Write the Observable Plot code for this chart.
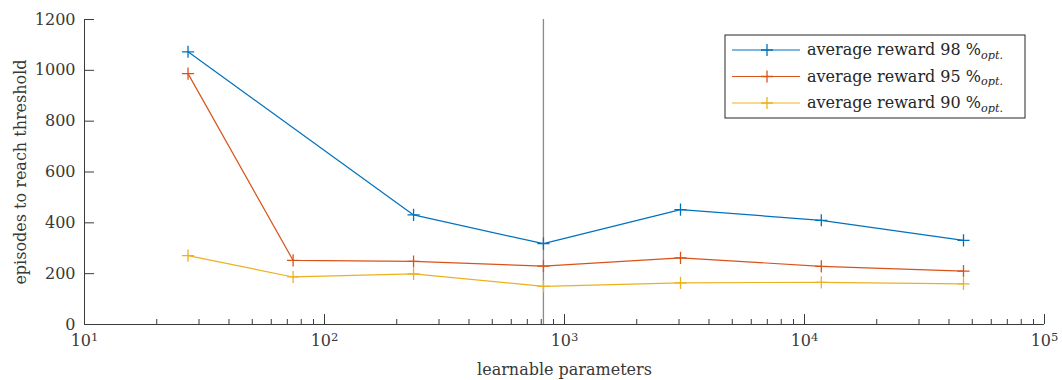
<!DOCTYPE html>
<html>
<head>
<meta charset="utf-8">
<script src="https://cdn.jsdelivr.net/npm/d3@7"></script>
<script src="https://cdn.jsdelivr.net/npm/@observablehq/plot@0.6"></script>
<style>
  body { margin: 0; background: #fff; }
  #chart { width: 1062px; height: 380px; }
</style>
</head>
<body>
<div id="chart"></div>
<script>
// Number of learnable parameters of each network size
const params = [27, 74, 235, 817, 3043, 11750, 45970];
// Episodes needed to reach each average-reward threshold (null = not measured)
const reward98 = [1073, null, 431, 318, 452, 410, 331];
const reward95 = [987, 252, 248, 230, 262, 229, 210];
const reward90 = [271, 187, 199, 150, 164, 166, 160];
const seriesLabels = ["98", "95", "90"];
const seriesColors = ["#0072BD", "#D95319", "#EDB120"];
// Network size highlighted with a vertical rule
const selectedParams = 817;
const xMajorTicks = [10, 100, 1000, 10000, 100000];
const yTicks = [0, 200, 400, 600, 800, 1000, 1200];

const rows = [];
[reward98, reward95, reward90].forEach((vals, s) => {
  params.forEach((p, i) => {
    if (vals[i] != null) rows.push({series: seriesLabels[s], params: p, episodes: vals[i]});
  });
});
const xMinorTicks = d3.range(1, 5).flatMap(e => d3.range(2, 10).map(m => m * 10 ** e));

const W = 1062, H = 380, mL = 84, mR = 18, mT = 19, mB = 56;
const frameH = H - mT - mB, frameW = W - mL - mR;
const axisColor = "#3a3a3a";
const font = "'DejaVu Serif', serif";

const plot = Plot.plot({
  width: W, height: H,
  marginLeft: mL, marginRight: mR, marginTop: mT, marginBottom: mB,
  style: {fontFamily: font, fontSize: "16px", color: "#383838", background: "white", overflow: "visible"},
  x: {type: "log", domain: [10, 1e5]},
  y: {domain: [0, 1200]},
  color: {domain: seriesLabels, range: seriesColors},
  marks: [
    Plot.ruleX([selectedParams], {stroke: "#8a8a8a", strokeWidth: 1.3}),
    // inward tick marks
    Plot.ruleX(xMinorTicks, {stroke: axisColor, insetTop: frameH - 5}),
    Plot.ruleX(xMajorTicks, {stroke: axisColor, insetTop: frameH - 10}),
    Plot.ruleY(yTicks, {stroke: axisColor, insetRight: frameW - 10}),
    Plot.ruleY([0], {stroke: axisColor}),
    Plot.ruleX([10], {stroke: axisColor}),
    Plot.line(rows, {x: "params", y: "episodes", z: "series", stroke: "series", strokeWidth: 1.2}),
    Plot.dot(rows, {x: "params", y: "episodes", stroke: "series", symbol: "plus", r: 4, strokeWidth: 1.3}),
    Plot.axisX({
      ticks: xMajorTicks, tickSize: 0, tickPadding: 10,
      tickFormat: d => `10^${Math.round(Math.log10(d))}`,
      label: "learnable parameters", labelAnchor: "center", labelArrow: "none", labelOffset: 50
    }),
    Plot.axisY({
      ticks: yTicks, tickSize: 0, tickPadding: 9, tickFormat: d => String(d),
      label: "episodes to reach threshold", labelAnchor: "center", labelArrow: "none", labelOffset: 70
    })
  ]
});

const svg = d3.select(plot);

// Render powers of ten with a raised exponent
svg.selectAll("g[aria-label='x-axis tick label'] text").each(function () {
  const t = d3.select(this);
  const s = t.text();
  const [base, exp] = s.split("^");
  if (exp === undefined) return;
  t.text(null);
  t.append("tspan").text(base);
  t.append("tspan").attr("dy", "-0.45em").attr("font-size", "0.72em").text(exp);
});

// Legend box in the upper-right corner of the frame
const legend = svg.append("g").attr("font-family", font).attr("font-size", 16)
  .attr("fill", "#262626").attr("text-anchor", "start");
const lx = 725, ly = 35, lw = 300, lh = 83, rowStep = 26.5;
legend.append("rect").attr("x", lx).attr("y", ly).attr("width", lw).attr("height", lh)
  .attr("fill", "white").attr("stroke", "#262626").attr("stroke-width", 1);
seriesLabels.forEach((lab, i) => {
  const cy = ly + 15 + i * rowStep;
  const c = seriesColors[i];
  legend.append("line").attr("x1", lx + 7).attr("x2", lx + 75).attr("y1", cy).attr("y2", cy)
    .attr("stroke", c).attr("stroke-width", 1.2);
  legend.append("path").attr("d", `M${lx + 42},${cy - 6}V${cy + 6}M${lx + 36},${cy}H${lx + 48}`)
    .attr("stroke", c).attr("stroke-width", 1.3).attr("fill", "none");
  const t = legend.append("text").attr("x", lx + 82).attr("y", cy + 5);
  t.append("tspan").text(`average reward ${lab} %`);
  t.append("tspan").attr("dy", "0.35em").attr("font-size", "0.7em").attr("font-style", "italic").text("opt.");
});

document.getElementById("chart").append(plot);
</script>
</body>
</html>
